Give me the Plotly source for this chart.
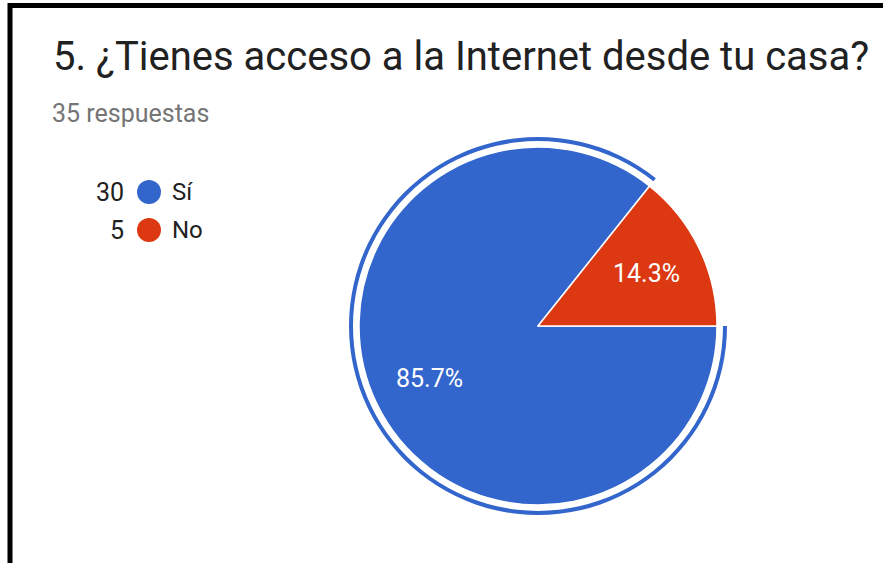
import math
import plotly.graph_objects as go

# ---- data ----
labels = ["Sí", "No"]
counts = [30, 5]
colors = ["#3366cc", "#dc3912"]
title_text = "5. ¿Tienes acceso a la Internet desde tu casa?"
subtitle_text = "35 respuestas"

W, H = 883, 563


def px(x):
    return x / W


def py(y):
    return 1 - y / H


cx, cy, r = 538, 326, 179
r_ring = 189
ring_hole = 185 / 189
label_r = 0.67 * r

fig = go.Figure()

# main pie
fig.add_trace(go.Pie(
    labels=labels, values=counts, sort=False, direction="counterclockwise",
    rotation=90,
    marker=dict(colors=colors, line=dict(color="white", width=1.5)),
    textinfo="none",
    domain=dict(x=[px(cx - r), px(cx + r)], y=[py(cy + r), py(cy - r)]),
    showlegend=False, hoverinfo="label+percent",
))

# highlight ring around the "Sí" slice
fig.add_trace(go.Pie(
    labels=labels, values=counts, sort=False, direction="counterclockwise",
    rotation=90, hole=ring_hole,
    marker=dict(colors=[colors[0], "rgba(0,0,0,0)"], line=dict(width=0)),
    textinfo="none", hoverinfo="skip",
    domain=dict(x=[px(cx - r_ring), px(cx + r_ring)], y=[py(cy + r_ring), py(cy - r_ring)]),
    showlegend=False,
))

annotations = [
    dict(text=title_text, x=px(51), y=py(56), xref="paper", yref="paper",
         xanchor="left", yanchor="middle", showarrow=False,
         font=dict(family="Roboto", size=40, color="#212121")),
    dict(text=subtitle_text, x=px(50), y=py(114), xref="paper", yref="paper",
         xanchor="left", yanchor="middle", showarrow=False,
         font=dict(family="Roboto", size=25, color="#757575")),
]

# percentage labels, placed at the middle angle of each slice
total = sum(counts)
start = 0.0  # math angle (deg), slices laid counterclockwise from 3 o'clock, last one first
for lab, cnt in reversed(list(zip(labels, counts))):
    span = 360.0 * cnt / total
    mid = math.radians(start + span / 2)
    start += span
    lx = cx + label_r * math.cos(mid)
    ly = cy - label_r * math.sin(mid)
    annotations.append(dict(text=f"{100 * cnt / total:.1f}%", x=px(lx), y=py(ly),
                            xref="paper", yref="paper", xanchor="center", yanchor="middle",
                            showarrow=False, font=dict(family="Roboto", size=25, color="white")))

shapes = [
    # frame (left + top black border)
    dict(type="line", xref="paper", yref="paper", x0=px(10), x1=px(10), y0=0, y1=py(3),
         line=dict(color="black", width=5)),
    dict(type="line", xref="paper", yref="paper", x0=px(8), x1=1, y0=py(5.5), y1=py(5.5),
         line=dict(color="black", width=5)),
]

# custom legend
leg_y0, leg_dy = 192, 38
for i, (lab, cnt, col) in enumerate(zip(labels, counts, colors)):
    yy = leg_y0 + i * leg_dy
    annotations.append(dict(text=str(cnt), x=px(126), y=py(yy), xref="paper", yref="paper",
                            xanchor="right", yanchor="middle", showarrow=False,
                            font=dict(family="Roboto", size=25, color="#212121")))
    annotations.append(dict(text=lab, x=px(170), y=py(yy), xref="paper", yref="paper",
                            xanchor="left", yanchor="middle", showarrow=False,
                            font=dict(family="Roboto", size=24, color="#212121")))
    shapes.append(dict(type="circle", xref="paper", yref="paper",
                       x0=px(149 - 12), x1=px(149 + 12), y0=py(yy + 12), y1=py(yy - 12),
                       fillcolor=col, line=dict(width=0)))

fig.update_layout(
    width=W, height=H, margin=dict(l=0, r=0, t=0, b=0),
    paper_bgcolor="white", plot_bgcolor="white",
    annotations=annotations, shapes=shapes,
)

fig.write_html("out.html", config={"displayModeBar": False},
               post_script="document.body.style.margin='0';")
